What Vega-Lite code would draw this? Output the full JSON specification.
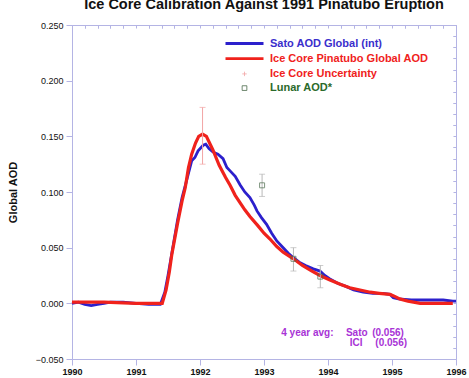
{
  "$schema": "https://vega.github.io/schema/vega-lite/v6.json",
  "width": 384,
  "height": 334,
  "autosize": {"type": "none"},
  "padding": {"left": 72, "top": 25, "right": 13, "bottom": 19},
  "background": "white",
  "config": {
    "view": {"stroke": "#b4b4e4", "strokeWidth": 1},
    "font": "Liberation Sans",
    "axis": {"domainColor": "#b4b4e4", "tickColor": "#b4b4e4", "grid": false, "labelColor": "#111", "labelFont": "Liberation Sans", "labelFontSize": 9, "labelFontWeight": "bold"}
  },
  "title": {"text": "Ice Core Calibration Against 1991 Pinatubo Eruption", "fontSize": 14.5, "fontWeight": "bold", "font": "Liberation Sans", "color": "#111", "anchor": "middle", "offset": 9},
  "datasets": {
    "sato": [
      {"year": 1990.0, "aod": 0.000}, {"year": 1990.1, "aod": 0.001}, {"year": 1990.2, "aod": -0.001},
      {"year": 1990.3, "aod": -0.002}, {"year": 1990.4, "aod": -0.001}, {"year": 1990.5, "aod": 0.000},
      {"year": 1990.6, "aod": 0.001}, {"year": 1990.8, "aod": 0.001}, {"year": 1991.0, "aod": 0.000},
      {"year": 1991.2, "aod": -0.001}, {"year": 1991.38, "aod": -0.001}, {"year": 1991.45, "aod": 0.010},
      {"year": 1991.5, "aod": 0.025}, {"year": 1991.56, "aod": 0.045}, {"year": 1991.65, "aod": 0.075},
      {"year": 1991.72, "aod": 0.095}, {"year": 1991.78, "aod": 0.108}, {"year": 1991.87, "aod": 0.128},
      {"year": 1991.92, "aod": 0.131}, {"year": 1991.97, "aod": 0.137}, {"year": 1992.05, "aod": 0.142},
      {"year": 1992.09, "aod": 0.143}, {"year": 1992.14, "aod": 0.139}, {"year": 1992.2, "aod": 0.136},
      {"year": 1992.28, "aod": 0.134}, {"year": 1992.36, "aod": 0.130}, {"year": 1992.42, "aod": 0.122},
      {"year": 1992.47, "aod": 0.119}, {"year": 1992.55, "aod": 0.114}, {"year": 1992.63, "aod": 0.106},
      {"year": 1992.7, "aod": 0.100}, {"year": 1992.78, "aod": 0.095}, {"year": 1992.85, "aod": 0.088},
      {"year": 1992.89, "aod": 0.083}, {"year": 1992.96, "aod": 0.077}, {"year": 1993.04, "aod": 0.071},
      {"year": 1993.12, "aod": 0.063}, {"year": 1993.2, "aod": 0.056}, {"year": 1993.3, "aod": 0.050},
      {"year": 1993.38, "aod": 0.045}, {"year": 1993.46, "aod": 0.041}, {"year": 1993.55, "aod": 0.037},
      {"year": 1993.65, "aod": 0.034}, {"year": 1993.77, "aod": 0.031}, {"year": 1993.875, "aod": 0.029},
      {"year": 1993.95, "aod": 0.025}, {"year": 1994.03, "aod": 0.022}, {"year": 1994.15, "aod": 0.018},
      {"year": 1994.29, "aod": 0.015}, {"year": 1994.4, "aod": 0.012}, {"year": 1994.55, "aod": 0.010},
      {"year": 1994.7, "aod": 0.009}, {"year": 1994.85, "aod": 0.009}, {"year": 1994.97, "aod": 0.008},
      {"year": 1995.02, "aod": 0.005}, {"year": 1995.1, "aod": 0.004}, {"year": 1995.3, "aod": 0.003},
      {"year": 1995.5, "aod": 0.003}, {"year": 1995.7, "aod": 0.003}, {"year": 1995.8, "aod": 0.003},
      {"year": 1995.95, "aod": 0.002}, {"year": 1996.0, "aod": 0.002}
    ],
    "icecore": [
      {"year": 1990.0, "aod": 0.001}, {"year": 1990.5, "aod": 0.001}, {"year": 1991.0, "aod": 0.000},
      {"year": 1991.41, "aod": 0.000}, {"year": 1991.47, "aod": 0.012}, {"year": 1991.52, "aod": 0.028},
      {"year": 1991.56, "aod": 0.044}, {"year": 1991.65, "aod": 0.072}, {"year": 1991.72, "aod": 0.092},
      {"year": 1991.77, "aod": 0.104}, {"year": 1991.82, "aod": 0.122}, {"year": 1991.87, "aod": 0.134},
      {"year": 1991.93, "aod": 0.144}, {"year": 1991.98, "aod": 0.150}, {"year": 1992.04, "aod": 0.152},
      {"year": 1992.1, "aod": 0.150}, {"year": 1992.2, "aod": 0.138}, {"year": 1992.3, "aod": 0.124},
      {"year": 1992.4, "aod": 0.113}, {"year": 1992.47, "aod": 0.106}, {"year": 1992.55, "aod": 0.097},
      {"year": 1992.63, "aod": 0.090}, {"year": 1992.7, "aod": 0.084}, {"year": 1992.78, "aod": 0.078},
      {"year": 1992.9, "aod": 0.070}, {"year": 1993.0, "aod": 0.063}, {"year": 1993.09, "aod": 0.058},
      {"year": 1993.2, "aod": 0.051}, {"year": 1993.3, "aod": 0.046}, {"year": 1993.46, "aod": 0.040},
      {"year": 1993.6, "aod": 0.034}, {"year": 1993.75, "aod": 0.029}, {"year": 1993.875, "aod": 0.025},
      {"year": 1994.03, "aod": 0.021}, {"year": 1994.2, "aod": 0.017}, {"year": 1994.34, "aod": 0.014},
      {"year": 1994.5, "aod": 0.012}, {"year": 1994.66, "aod": 0.010}, {"year": 1994.8, "aod": 0.009},
      {"year": 1994.97, "aod": 0.008}, {"year": 1995.05, "aod": 0.006}, {"year": 1995.12, "aod": 0.004},
      {"year": 1995.25, "aod": 0.002}, {"year": 1995.44, "aod": 0.000}, {"year": 1995.95, "aod": 0.000}
    ],
    "uncertainty": [
      {"year": 1992.04, "aod": 0.152, "lo": 0.125, "hi": 0.176}
    ],
    "lunar": [
      {"year": 1992.97, "aod": 0.106, "lo": 0.096, "hi": 0.116},
      {"year": 1993.46, "aod": 0.040, "lo": 0.029, "hi": 0.050},
      {"year": 1993.88, "aod": 0.024, "lo": 0.014, "hi": 0.034}
    ],
    "notes": [
      {"year": 1993.27, "aod": -0.0265, "label": "4 year avg:"},
      {"year": 1994.28, "aod": -0.0265, "label": "Sato"},
      {"year": 1994.69, "aod": -0.0265, "label": "(0.056)"},
      {"year": 1994.34, "aod": -0.036, "label": "ICI"},
      {"year": 1994.74, "aod": -0.036, "label": "(0.056)"}
    ]
  },
  "resolve": {"axis": {"x": "independent", "y": "independent"}},
  "layer": [
    {
      "data": {"name": "sato"},
      "transform": [{"calculate": "'Sato AOD Global (int)'", "as": "series"}],
      "mark": {"type": "line", "strokeWidth": 2.8},
      "encoding": {
        "x": {"field": "year", "type": "quantitative",
              "scale": {"domain": [1990, 1996], "nice": false, "zero": false},
              "axis": {"title": null, "values": [1990, 1991, 1992, 1993, 1994, 1995, 1996], "format": "d", "tickSize": 6, "labelPadding": 2, "labelFlush": false, "labelOverlap": false}},
        "y": {"field": "aod", "type": "quantitative",
              "scale": {"domain": [-0.05, 0.25], "nice": false, "zero": false},
              "axis": {"title": "Global AOD", "titleFontSize": 11, "titleFontWeight": "bold", "titleColor": "#111", "titlePadding": 17, "values": [-0.05, 0, 0.05, 0.1, 0.15, 0.2, 0.25], "format": ".3f", "tickSize": 6, "labelPadding": 3, "labelFontWeight": "normal"}},
        "color": {"field": "series", "type": "nominal",
                  "scale": {"domain": ["Sato AOD Global (int)", "Ice Core Pinatubo Global AOD", "Ice Core Uncertainty", "Lunar AOD*"],
                            "range": ["#2c20cc", "#f0221c", "#f2a4a4", "#4a6a4a"]},
                  "legend": {
                    "orient": "none", "legendX": 167, "legendY": 13, "title": null, "padding": 0,
                    "symbolType": "stroke", "symbolSize": 1444, "symbolStrokeWidth": 2.8,
                    "labelFont": "Liberation Sans", "labelFontSize": 11, "labelFontWeight": "bold", "labelOffset": 20,
                    "labelLimit": 300, "rowPadding": 2.2,
                    "encode": {
                      "symbols": {"update": {
                        "shape": {"signal": "datum.value === 'Lunar AOD*' ? 'square' : datum.value === 'Ice Core Uncertainty' ? 'M-1,0H1M0,-1V1' : 'stroke'"},
                        "size": {"signal": "datum.value === 'Lunar AOD*' ? 22 : datum.value === 'Ice Core Uncertainty' ? 20 : 1444"},
                        "strokeWidth": {"signal": "datum.value === 'Lunar AOD*' || datum.value === 'Ice Core Uncertainty' ? 0.8 : 2.8"},
                        "fill": {"value": "transparent"},
                        "fillOpacity": {"value": 0}
                      }},
                      "labels": {"update": {
                        "fill": {"signal": "datum.value === 'Sato AOD Global (int)' ? '#3a2ecc' : datum.value === 'Lunar AOD*' ? '#2b6a2b' : '#f0221c'"}
                      }}
                    }
                  }}
      }
    },
    {
      "data": {"name": "icecore"},
      "transform": [{"calculate": "'Ice Core Pinatubo Global AOD'", "as": "series"}],
      "mark": {"type": "line", "strokeWidth": 3.2},
      "encoding": {
        "x": {"field": "year", "type": "quantitative",
              "axis": {"title": null, "values": [1990.2, 1990.4, 1990.6, 1990.8, 1991.2, 1991.4, 1991.6, 1991.8, 1992.2, 1992.4, 1992.6, 1992.8, 1993.2, 1993.4, 1993.6, 1993.8, 1994.2, 1994.4, 1994.6, 1994.8, 1995.2, 1995.4, 1995.6, 1995.8], "labels": false, "domain": false, "tickSize": -3}},
        "y": {"field": "aod", "type": "quantitative",
              "axis": {"title": null, "values": [-0.04, -0.03, -0.02, -0.01, 0.01, 0.02, 0.03, 0.04, 0.06, 0.07, 0.08, 0.09, 0.11, 0.12, 0.13, 0.14, 0.16, 0.17, 0.18, 0.19, 0.21, 0.22, 0.23, 0.24], "labels": false, "domain": false, "tickSize": -3}},
        "color": {"field": "series", "type": "nominal"}
      }
    },
    {
      "data": {"name": "uncertainty"},
      "transform": [{"calculate": "'Ice Core Uncertainty'", "as": "series"}],
      "mark": {"type": "errorbar", "ticks": {"size": 6}, "thickness": 1},
      "encoding": {
        "x": {"field": "year", "type": "quantitative",
              "axis": {"orient": "top", "title": null, "values": [1990, 1990.2, 1990.4, 1990.6, 1990.8, 1991, 1991.2, 1991.4, 1991.6, 1991.8, 1992, 1992.2, 1992.4, 1992.6, 1992.8, 1993, 1993.2, 1993.4, 1993.6, 1993.8, 1994, 1994.2, 1994.4, 1994.6, 1994.8, 1995, 1995.2, 1995.4, 1995.6, 1995.8, 1996], "labels": false, "tickSize": -3}},
        "y": {"field": "lo", "type": "quantitative",
              "axis": {"orient": "right", "title": null, "values": [-0.05, -0.04, -0.03, -0.02, -0.01, 0, 0.01, 0.02, 0.03, 0.04, 0.05, 0.06, 0.07, 0.08, 0.09, 0.1, 0.11, 0.12, 0.13, 0.14, 0.15, 0.16, 0.17, 0.18, 0.19, 0.2, 0.21, 0.22, 0.23, 0.24, 0.25], "labels": false, "tickSize": -3}},
        "y2": {"field": "hi"},
        "color": {"field": "series", "type": "nominal"}
      }
    },
    {
      "data": {"name": "lunar"},
      "mark": {"type": "errorbar", "ticks": {"size": 6}, "thickness": 1, "color": "#b8b8b8"},
      "encoding": {
        "x": {"field": "year", "type": "quantitative", "axis": null},
        "y": {"field": "lo", "type": "quantitative", "axis": null},
        "y2": {"field": "hi"}
      }
    },
    {
      "data": {"name": "lunar"},
      "transform": [{"calculate": "'Lunar AOD*'", "as": "series"}],
      "mark": {"type": "point", "shape": "square", "filled": false, "size": 25, "strokeWidth": 1},
      "encoding": {
        "x": {"field": "year", "type": "quantitative", "axis": null},
        "y": {"field": "aod", "type": "quantitative", "axis": null},
        "color": {"field": "series", "type": "nominal"}
      }
    },
    {
      "data": {"name": "notes"},
      "mark": {"type": "text", "font": "Liberation Sans", "fontSize": 10, "fontWeight": "bold", "color": "#a833d6", "baseline": "middle", "align": "left"},
      "encoding": {
        "x": {"field": "year", "type": "quantitative", "axis": null},
        "y": {"field": "aod", "type": "quantitative", "axis": null},
        "text": {"field": "label"}
      }
    }
  ]
}
